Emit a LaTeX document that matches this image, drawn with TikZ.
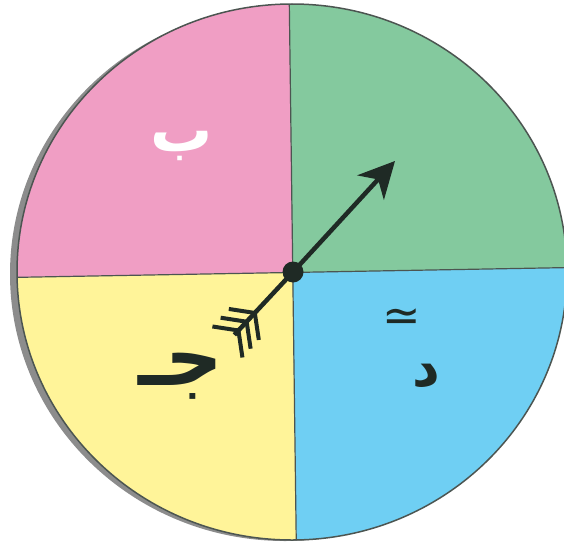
\documentclass[tikz,border=0pt]{standalone}
\usepackage{fontspec}
\newfontfamily\arabicfont[Script=Arabic]{DejaVu Sans}
\newfontfamily\symfont{DejaVu Sans}
\TeXXeTstate=1
\usepackage{xcolor}
\definecolor{rimgrey}{HTML}{8C8C8C}
\definecolor{pinkpart}{HTML}{F09EC4}
\definecolor{greenpart}{HTML}{84C99E}
\definecolor{bluepart}{HTML}{6FCFF3}
\definecolor{yellowpart}{HTML}{FFF499}
\definecolor{pointer}{HTML}{1F2A25}
\usetikzlibrary{arrows.meta, positioning, calc}

\begin{document}
\begin{tikzpicture}[x=1pt, y=-1pt, >=Stealth,
    label/.style={font=\arabicfont\bfseries\fontsize{62}{62}\selectfont, inner sep=0pt}]
  \useasboundingbox (0,0) rectangle (564,543);

  % shadow and wheel
  \fill[rimgrey] (285,274) ellipse [x radius=275, y radius=267];
  \begin{scope}
    \clip (292,272) ellipse [x radius=275, y radius=268];
    \fill[pinkpart]   (-20,-20) -- (289,-20) -- (292.5,272.5) -- (-20,278) -- cycle;
    \fill[greenpart]  (289,-20) -- (600,-20) -- (600,267) -- (292.5,272.5) -- cycle;
    \fill[bluepart]   (292.5,272.5) -- (600,267) -- (600,600) -- (297,600) -- cycle;
    \fill[yellowpart] (-20,278) -- (292.5,272.5) -- (297,600) -- (-20,600) -- cycle;
    \draw[pointer!80, line width=1.2pt] (289,-20) -- (297,600);
    \draw[pointer!80, line width=1.2pt] (-20,278) -- (600,267);
  \end{scope}
  \draw[pointer!80, line width=1.5pt] (292,272) ellipse [x radius=275, y radius=268];

  % letters
  \node[label, text=white] (ba) at (182,146) {\beginR ب\endR};
  \node[label, text=pointer, font=\arabicfont\bfseries\fontsize{54}{54}\selectfont] (dal) at (426,376) {\beginR د\endR};
  \node[label, text=pointer, font=\arabicfont\bfseries\fontsize{80}{80}\selectfont] (jim) at (181,376) {\beginR جـ\endR};
  \node[font=\symfont\fontsize{46}{46}\selectfont, text=pointer, inner sep=0pt] (mark) at (402,320) {≃};

  % pointer
  \node[circle, fill=pointer, minimum size=21pt, inner sep=0pt] (hub) at (293,272) {};
  \coordinate (tip) at (395,161);
  \coordinate (tail) at ($(hub)+(-0.682*86,0.731*86)$);
  \draw[->, pointer, line width=4.5pt, >={Stealth[length=36pt, width=36pt, inset=11pt]}] (hub.center) -- (tip);
  \draw[pointer, line width=4.5pt] (hub.center) -- (tail);
  \foreach \d in {56,68,80} {
    \coordinate (v) at ($(hub)+(-0.682*\d,0.731*\d)$);
    \draw[pointer, line width=4pt] ($(v)+(-26,-4)$) -- (v) -- ($(v)+(4,27)$);
  }
\end{tikzpicture}
\end{document}
